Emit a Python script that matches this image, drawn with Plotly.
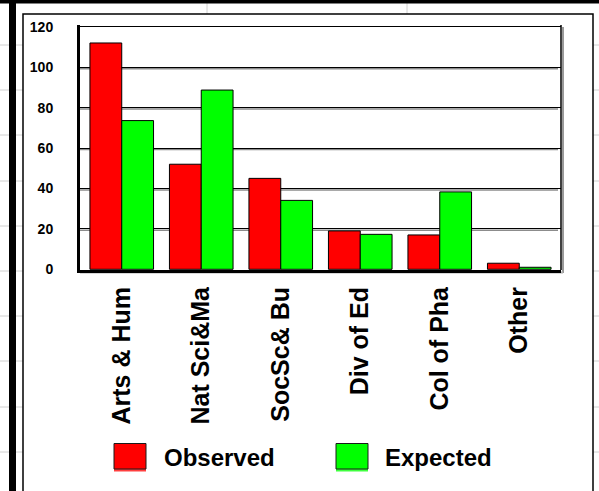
import plotly.graph_objects as go

# Enrolment by division: observed counts vs. expected counts
categories = ["Arts & Hum", "Nat Sci&Ma", "SocSc& Bu", "Div of Ed", "Col of Pha", "Other"]
observed = [112, 52, 45, 19, 17, 3]
expected = [73.6, 88.7, 34.1, 17.3, 38.3, 1.0]
series_names = ["Observed", "Expected"]
series_colors = ["#FF0000", "#00FF00"]
y_ticks = [0, 20, 40, 60, 80, 100, 120]

W, H = 599, 491
# plot area in page pixels
PL, PR, PT, PB = 80, 561, 25, 270
FONT = "Liberation Sans, Arial, sans-serif"


def xp(px):
    return (px - PL) / (PR - PL)


def yp(py):
    return (PB - py) / (PB - PT)


fig = go.Figure()
for name, vals, col in zip(series_names, [observed, expected], series_colors):
    fig.add_trace(go.Bar(
        x=categories, y=vals, name=name,
        marker=dict(color=col, line=dict(color="#000000", width=1)),
        showlegend=False,
    ))

shapes = []
grid_grey = "#d0d0d0"
# worksheet cell lines behind the chart object
for gy in [45, 90, 135, 181, 226, 271, 316, 361, 407, 452]:
    shapes.append(dict(type="line", xref="paper", yref="paper", layer="below",
                       x0=xp(0), x1=xp(W), y0=yp(gy), y1=yp(gy),
                       line=dict(color=grid_grey, width=1)))
for gx in [207, 407]:
    shapes.append(dict(type="line", xref="paper", yref="paper", layer="below",
                       x0=xp(gx), x1=xp(gx), y0=yp(0), y1=yp(H),
                       line=dict(color=grid_grey, width=1)))
# chart object box
shapes.append(dict(type="rect", xref="paper", yref="paper", layer="below",
                   x0=xp(23), x1=xp(593), y0=yp(14), y1=yp(H + 10),
                   fillcolor="white", line=dict(color="black", width=1.5)))
# heavy worksheet borders
shapes.append(dict(type="rect", xref="paper", yref="paper", layer="below",
                   x0=xp(0), x1=xp(W), y0=yp(0), y1=yp(3.5),
                   fillcolor="black", line=dict(width=0)))
shapes.append(dict(type="rect", xref="paper", yref="paper", layer="below",
                   x0=xp(9), x1=xp(16), y0=yp(0), y1=yp(H),
                   fillcolor="black", line=dict(width=0)))
# plot frame: shadow then right edge
shapes.append(dict(type="line", xref="paper", yref="paper", layer="below",
                   x0=xp(563), x1=xp(563), y0=yp(27), y1=yp(273),
                   line=dict(color="#9a9a9a", width=2)))
shapes.append(dict(type="line", xref="paper", yref="paper", layer="below",
                   x0=xp(80), x1=xp(563), y0=yp(272.5), y1=yp(272.5),
                   line=dict(color="#b0b0b0", width=2)))
shapes.append(dict(type="line", xref="paper", yref="paper", layer="below",
                   x0=1, x1=1, y0=0, y1=1,
                   line=dict(color="black", width=1.5)))
# soft shadow under each gridline
for t in y_ticks[1:-1]:
    shapes.append(dict(type="line", xref="paper", yref="y", layer="below",
                       x0=0, x1=xp(558), y0=t - 0.7, y1=t - 0.7,
                       line=dict(color="#8c8c8c", width=1.5)))

# legend swatches
annotations = []
for (sx, tx), name, col in zip([(114, 162), (336, 383)], series_names, series_colors):
    shapes.append(dict(type="rect", xref="paper", yref="paper",
                       x0=xp(sx), x1=xp(sx + 32), y0=yp(469), y1=yp(471.5),
                       fillcolor=col, line=dict(width=0), opacity=0.75))
    shapes.append(dict(type="rect", xref="paper", yref="paper",
                       x0=xp(sx), x1=xp(sx + 32), y0=yp(443.5), y1=yp(469),
                       fillcolor=col, line=dict(color="#1a1a1a", width=1)))
    annotations.append(dict(xref="paper", yref="paper", x=xp(tx), y=yp(458),
                            xanchor="left", yanchor="middle", showarrow=False,
                            text=name, font=dict(family=FONT, size=24, color="black",
                                                 weight="bold")))

fig.update_layout(
    width=W, height=H,
    margin=dict(l=PL, r=W - PR, t=PT, b=H - PB, pad=0),
    paper_bgcolor="white", plot_bgcolor="white",
    barmode="group", bargap=0.2, bargroupgap=0,
    shapes=shapes, annotations=annotations,
    showlegend=False,
    xaxis=dict(
        range=[-0.525, 5.525], showgrid=False, zeroline=False,
        showline=True, linewidth=3, linecolor="black",
        tickangle=-90, ticks="", ticklabelstandoff=4,
        tickfont=dict(family=FONT, size=25, color="black", weight="bold"),
    ),
    yaxis=dict(
        range=[-0.35, 120.9], tickvals=y_ticks, ticktext=[str(v) for v in y_ticks],
        showgrid=True, gridcolor="black", gridwidth=1, zeroline=False,
        showline=True, linewidth=3, linecolor="black",
        ticks="", ticklabelstandoff=21,
        tickfont=dict(family=FONT, size=14, color="black", weight="bold"),
    ),
)

fig.write_html("out.html")
